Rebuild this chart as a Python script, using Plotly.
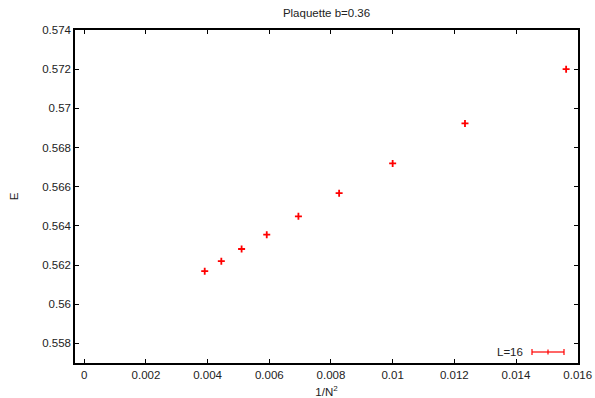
import plotly.graph_objects as go

N_values = [8, 9, 10, 11, 12, 13, 14, 15, 16]
inv_N2 = [1.0 / (n * n) for n in N_values]
E_values = [0.57200, 0.56923, 0.56719, 0.56567, 0.56449, 0.56355, 0.56282, 0.56220, 0.56169]
E_errors = [0.00006, 0.00005, 0.00005, 0.00005, 0.00005, 0.00005, 0.00005, 0.00005, 0.00005]

x_ticks = [0, 0.002, 0.004, 0.006, 0.008, 0.01, 0.012, 0.014, 0.016]
x_ticklabels = ["0", "0.002", "0.004", "0.006", "0.008", "0.01", "0.012", "0.014", "0.016"]
y_ticks = [0.558, 0.56, 0.562, 0.564, 0.566, 0.568, 0.57, 0.572, 0.574]
y_ticklabels = ["0.558", "0.56", "0.562", "0.564", "0.566", "0.568", "0.57", "0.572", "0.574"]

font = "Liberation Sans, Arial, Helvetica, sans-serif"
tcol = "#222222"

fig = go.Figure()
fig.add_trace(go.Scatter(
    x=inv_N2, y=E_values, mode="markers", name="L=16",
    marker=dict(symbol="cross-thin", size=5, line=dict(color="#ff0000", width=1.8), color="#ff0000"),
    error_y=dict(type="data", array=E_errors, color="#ff0000", thickness=1, width=0),
    showlegend=False,
))

axis_common = dict(
    showgrid=False, zeroline=False, showline=True, linecolor="black", linewidth=1.5,
    mirror="ticks", ticks="inside", ticklen=4, tickcolor="black", tickwidth=1,
    tickfont=dict(family=font, size=11.5, color=tcol), automargin=False,
)

fig.update_layout(
    width=595, height=398,
    margin=dict(l=75, r=17, t=30, b=35),
    paper_bgcolor="white", plot_bgcolor="white",
    title=dict(text="Plaquette b=0.36", x=0.5488, xanchor="center", y=0.967, yanchor="middle",
               font=dict(family=font, size=11.5, color=tcol)),
    xaxis=dict(range=[-0.0003, 0.01601], tickvals=x_ticks, ticktext=x_ticklabels,
               title=dict(text="1/N<sup>2</sup>", font=dict(family=font, size=11.5, color=tcol), standoff=8),
               **axis_common),
    yaxis=dict(range=[0.557, 0.574], tickvals=y_ticks, ticktext=y_ticklabels,
               title=dict(text="E", font=dict(family=font, size=11.5, color=tcol), standoff=21),
               **axis_common),
)

# legend sample (gnuplot style errorbar key)
leg_y = 352
def px_x(p):
    return (p - 75) / (595 - 75 - 17)
def px_y(p):
    return 1 - (p - 30) / (398 - 30 - 35)

red = "#ff0000"
fig.add_shape(type="line", xref="paper", yref="paper", x0=px_x(532), x1=px_x(564), y0=px_y(leg_y), y1=px_y(leg_y),
              line=dict(color=red, width=1.2))
for xp in (532, 564):
    fig.add_shape(type="line", xref="paper", yref="paper", x0=px_x(xp), x1=px_x(xp), y0=px_y(leg_y - 3), y1=px_y(leg_y + 3),
                  line=dict(color=red, width=1.2))
fig.add_shape(type="line", xref="paper", yref="paper", x0=px_x(548), x1=px_x(548), y0=px_y(leg_y - 2.5), y1=px_y(leg_y + 2.5),
              line=dict(color=red, width=1.2))
fig.add_annotation(text="L=16", xref="paper", yref="paper", x=px_x(525), y=px_y(leg_y), xanchor="right", yanchor="middle",
                   showarrow=False, font=dict(family=font, size=11.5, color=tcol))

fig.write_html("out.html")
